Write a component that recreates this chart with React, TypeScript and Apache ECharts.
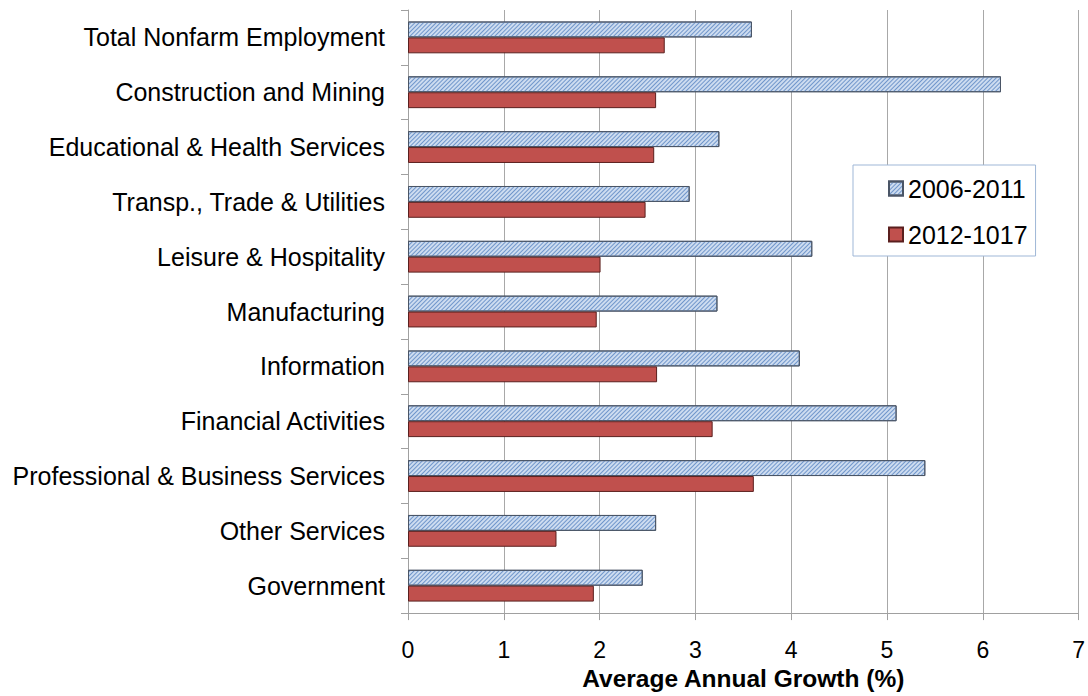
import React, { useEffect, useRef } from "react";
import * as echarts from "echarts";

const categories = [
  "Total Nonfarm Employment",
  "Construction and Mining",
  "Educational & Health Services",
  "Transp., Trade & Utilities",
  "Leisure & Hospitality",
  "Manufacturing",
  "Information",
  "Financial Activities",
  "Professional & Business Services",
  "Other Services",
  "Government",
];
const series2006 = [3.59, 6.19, 3.25, 2.94, 4.22, 3.23, 4.09, 5.10, 5.40, 2.59, 2.45];
const series2012 = [2.68, 2.59, 2.57, 2.48, 2.01, 1.97, 2.60, 3.18, 3.61, 1.55, 1.94];
const seriesNames = ["2006-2011", "2012-1017"];
const xTicks = [0, 1, 2, 3, 4, 5, 6, 7];

const FONT = "Liberation Sans, Arial, Helvetica, sans-serif";

export default function App() {
  const ref = useRef<HTMLDivElement>(null);
  useEffect(() => {
    if (!ref.current) return;
    const chart = echarts.init(ref.current, undefined, { renderer: "svg" });
    chart.setOption({
      animation: false,
      textStyle: { fontFamily: FONT },
      grid: { left: 408, right: 7, top: 10, bottom: 77, containLabel: false },
      legend: {
        orient: "vertical",
        left: 853,
        top: 165,
        padding: [11, 8, 9, 35],
        itemGap: 21,
        itemWidth: 14,
        itemHeight: 14,
        itemTextGap: 5,
        icon: "rect",
        borderColor: "#9fb7d7",
        borderWidth: 1,
        backgroundColor: "#ffffff",
        textStyle: { fontSize: 25, color: "#000", fontFamily: FONT },
        data: seriesNames,
      },
      xAxis: {
        type: "value",
        min: xTicks[0],
        max: xTicks[xTicks.length - 1],
        interval: 1,
        name: "Average Annual Growth (%)",
        nameLocation: "middle",
        nameGap: 52,
        nameTextStyle: { fontSize: 24.5, fontWeight: "bold", color: "#000", fontFamily: FONT },
        axisLine: { show: true, lineStyle: { color: "#a0a0a0", width: 1 } },
        axisTick: { show: true, length: 7, lineStyle: { color: "#a0a0a0" } },
        axisLabel: { fontSize: 23, color: "#000", margin: 25, fontFamily: FONT },
        splitLine: { show: true, lineStyle: { color: "#a8a8a8", width: 1 } },
      },
      yAxis: {
        type: "category",
        data: categories,
        inverse: true,
        axisLine: { show: true, lineStyle: { color: "#a0a0a0", width: 1 } },
        axisTick: { show: true, length: 7, alignWithLabel: false, lineStyle: { color: "#a0a0a0" } },
        axisLabel: { fontSize: 25, color: "#000", margin: 23, fontFamily: FONT },
        splitLine: { show: false },
      },
      series: [
        {
          name: seriesNames[0],
          type: "bar",
          data: series2006,
          barGap: "0%",
          barCategoryGap: "42%",
          itemStyle: {
            color: "#cddcf0",
            borderColor: "#4a5566",
            borderWidth: 1,
            decal: {
              symbol: "rect",
              symbolSize: 1,
              color: "#7096cb",
              dashArrayX: [1, 0],
              dashArrayY: [1, 1.5],
              rotation: -Math.PI / 4,
            },
          },
        },
        {
          name: seriesNames[1],
          type: "bar",
          data: series2012,
          barGap: "0%",
          barCategoryGap: "42%",
          itemStyle: {
            color: "#c0504d",
            borderColor: "#5a1f1e",
            borderWidth: 1,
          },
        },
      ],
    });
    return () => chart.dispose();
  }, []);
  return <div ref={ref} style={{ width: 1088, height: 696, position: "absolute", left: 0, top: 0, background: "#fff" }} />;
}
